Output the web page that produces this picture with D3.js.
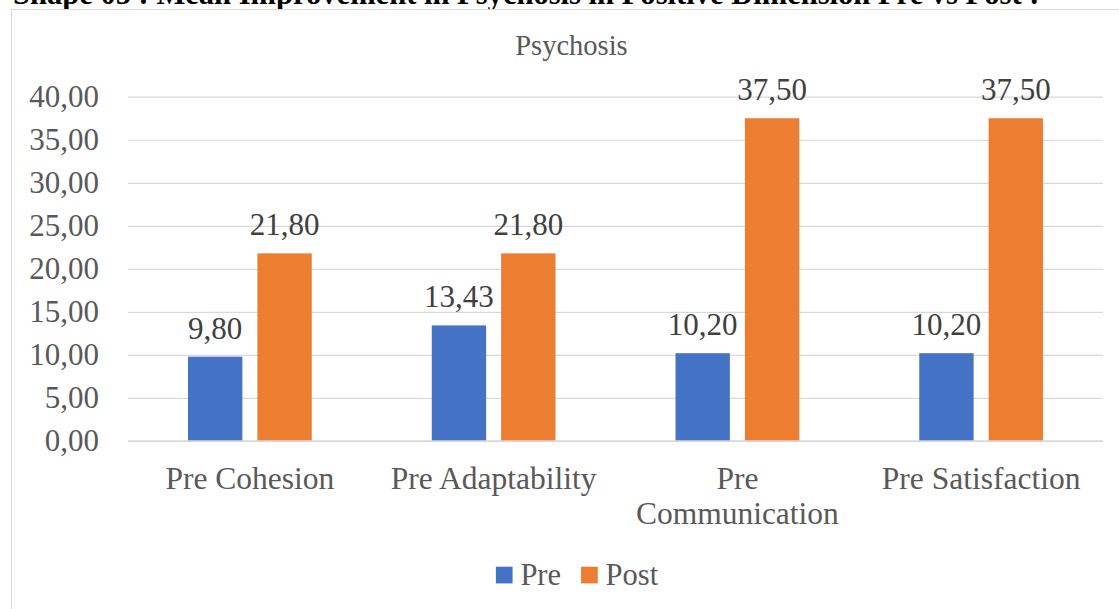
<!DOCTYPE html>
<html>
<head>
<meta charset="utf-8">
<script src="https://cdn.jsdelivr.net/npm/d3@7"></script>
<style>
  html, body { margin: 0; padding: 0; background: #fff; }
  svg { display: block; }
  text { font-family: "Liberation Serif", "Times New Roman", serif; }
</style>
</head>
<body>
<svg id="chart" width="1119" height="609"></svg>
<script>
// Chart data
const categories = ["Pre Cohesion", "Pre Adaptability", "Pre Communication", "Pre Satisfaction"];
const seriesNames = ["Pre", "Post"];
const preValues = [9.80, 13.43, 10.20, 10.20];
const postValues = [21.80, 21.80, 37.50, 37.50];
const yTicks = [0, 5, 10, 15, 20, 25, 30, 35, 40];
const seriesColors = ["#4472C4", "#ED7D31"];
const chartTitle = "Psychosis";
const captionText = "Shape 05 : Mean Improvement in Psychosis in Positive Dimension Pre vs Post :";

const W = 1119, H = 609;
const svg = d3.select("#chart");

const rows = categories.map((c, i) => ({ category: c, values: [preValues[i], postValues[i]] }));

// Comma decimal formatting
const fmt = d3.formatLocale({ decimal: ",", thousands: ".", grouping: [3], currency: ["", ""] }).format(".2f");

// Caption above the chart frame (partly outside the page)
const cap = svg.append("text")
  .attr("x", 13)
  .attr("y", 4)
  .attr("fill", "#000")
  .attr("font-weight", "bold")
  .attr("font-size", 30)
  .text(captionText);
const capLen = cap.node().getComputedTextLength();
cap.attr("font-size", 30 * 1027 / capLen);

// Chart frame
svg.append("rect")
  .attr("x", 11.5).attr("y", 9.5)
  .attr("width", 1160).attr("height", 640)
  .attr("fill", "#fff")
  .attr("stroke", "#d9d9d9")
  .attr("stroke-width", 1);

// Scales
const x = d3.scaleBand().domain(categories).range([128, 1103]).padding(0);
const xInner = d3.scaleBand().domain(seriesNames)
  .range([x.bandwidth() * 0.2462, x.bandwidth() * 0.7538])
  .paddingInner(0.2165).paddingOuter(0);
const y = d3.scaleLinear().domain([0, 40]).range([441, 96.7]);

// Gridlines
const yAxis = d3.axisLeft(y).tickValues(yTicks).tickSize(-(x.range()[1] - x.range()[0])).tickFormat(fmt);
const gy = svg.append("g").attr("transform", `translate(${x.range()[0]},0)`).call(yAxis);
gy.select(".domain").remove();
gy.selectAll(".tick line").attr("stroke", "#d9d9d9").attr("stroke-width", 1.2);
gy.selectAll(".tick text").remove();

// Y tick labels
svg.append("g").selectAll("text")
  .data(yTicks)
  .join("text")
  .attr("x", 99)
  .attr("y", d => y(d))
  .attr("dy", "0.33em")
  .attr("text-anchor", "end")
  .attr("font-size", 31)
  .attr("fill", "#595959")
  .text(d => fmt(d));

// Bars
const groups = svg.append("g").selectAll("g")
  .data(rows)
  .join("g")
  .attr("transform", d => `translate(${x(d.category)},0)`);

groups.selectAll("rect")
  .data(d => d.values.map((v, i) => ({ series: seriesNames[i], value: v, i })))
  .join("rect")
  .attr("x", d => xInner(d.series))
  .attr("width", xInner.bandwidth())
  .attr("y", d => y(d.value))
  .attr("height", d => y(0) - y(d.value))
  .attr("fill", d => seriesColors[d.i]);

// Value labels
groups.selectAll("text.val")
  .data(d => d.values.map((v, i) => ({ series: seriesNames[i], value: v, i })))
  .join("text")
  .attr("class", "val")
  .attr("x", d => xInner(d.series) + xInner.bandwidth() / 2)
  .attr("y", d => y(d.value) - 18)
  .attr("text-anchor", "middle")
  .attr("font-size", 31)
  .attr("fill", "#404040")
  .text(d => fmt(d.value));

// Baseline axis
svg.append("line")
  .attr("x1", x.range()[0]).attr("x2", x.range()[1])
  .attr("y1", y(0)).attr("y2", y(0))
  .attr("stroke", "#d9d9d9").attr("stroke-width", 1.5);

// Category labels, wrapped to the band width
const catG = svg.append("g");
categories.forEach(c => {
  const cx = x(c) + x.bandwidth() / 2;
  const t = catG.append("text")
    .attr("x", cx).attr("y", 489)
    .attr("text-anchor", "middle")
    .attr("font-size", 31.5)
    .attr("fill", "#595959");
  const words = c.split(" ");
  let line = [];
  let tspan = t.append("tspan").attr("x", cx).attr("dy", 0);
  let lineNo = 0;
  words.forEach(w => {
    line.push(w);
    tspan.text(line.join(" "));
    if (tspan.node().getComputedTextLength() > x.bandwidth() - 8 && line.length > 1) {
      line.pop();
      tspan.text(line.join(" "));
      line = [w];
      lineNo++;
      tspan = t.append("tspan").attr("x", cx).attr("dy", 35).text(w);
    }
  });
});

// Chart title
svg.append("text")
  .attr("x", 571.5).attr("y", 55)
  .attr("text-anchor", "middle")
  .attr("font-size", 28.5)
  .attr("fill", "#595959")
  .text(chartTitle);

// Legend
const legend = svg.append("g");
let lx = 0;
seriesNames.forEach((s, i) => {
  const item = legend.append("g").attr("transform", `translate(${lx},0)`);
  item.append("rect").attr("x", 0).attr("y", -18.3).attr("width", 16.7).attr("height", 16.7).attr("fill", seriesColors[i]);
  const t = item.append("text").attr("x", 24.5).attr("y", 0)
    .attr("font-size", 30.5).attr("fill", "#595959").text(s);
  lx += 24.5 + t.node().getComputedTextLength() + 20;
});
const legW = lx - 20;
legend.attr("transform", `translate(${577 - legW / 2},585)`);
</script>
</body>
</html>
